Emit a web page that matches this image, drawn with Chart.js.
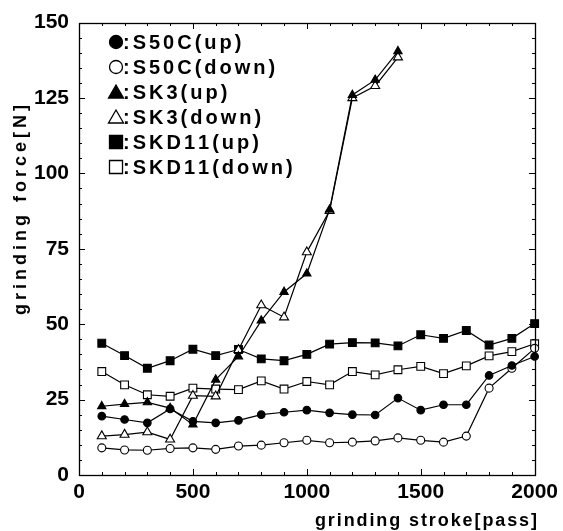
<!DOCTYPE html>
<html>
<head>
<meta charset="utf-8">
<script src="https://cdn.jsdelivr.net/npm/chart.js@4"></script>
<style>
  body { margin: 0; background: #fff; }
  canvas { display: block; }
</style>
</head>
<body>
<canvas id="myChart" width="563" height="531"></canvas>
<script>
// grinding force vs grinding stroke

var strokes = [100, 200, 300, 400, 500, 600, 700, 800, 900, 1000,
               1100, 1200, 1300, 1400, 1500, 1600, 1700, 1800, 1900, 2000];
var s50cUp    = [19.5, 18.4, 17.3, 21.9, 17.8, 17.3, 18.1, 20.0, 20.8, 21.5,
                 20.6, 20.0, 19.9, 25.5, 21.5, 23.3, 23.3, 33.0, 36.3, 39.3];
var s50cDown  = [9.0, 8.3, 8.2, 8.8, 9.0, 8.5, 9.6, 9.9, 10.7, 11.5,
                 10.7, 10.9, 11.3, 12.3, 11.5, 10.9, 12.9, 28.8, 35.4, 42.0];
var sk3Up     = [22.8, 23.5, 24.1, 22.2, 16.7, 31.6, 39.3, 51.2, 60.7, 66.8,
                 88.0, 126.0, 131.0, 140.5];
var sk3Down   = [12.9, 13.4, 14.2, 11.8, 26.3, 26.1, 41.5, 56.3, 52.3, 73.9,
                 87.6, 125.0, 129.0, 138.5];
var skd11Up   = [43.7, 39.6, 35.4, 37.9, 41.7, 39.6, 41.6, 38.5, 37.9, 40.0,
                 43.4, 43.9, 43.8, 42.8, 46.5, 45.3, 47.9, 43.1, 45.3, 50.2];
var skd11Down = [34.3, 29.9, 26.6, 26.1, 28.8, 28.5, 28.3, 31.2, 28.5, 31.0,
                 29.9, 34.3, 33.2, 34.9, 36.0, 33.6, 36.2, 39.5, 40.9, 43.5];
var yTicks = [0, 25, 50, 75, 100, 125, 150];
var xTicks = [0, 500, 1000, 1500, 2000];

function pts(vals) {
    return vals.map(function (v, i) { return { x: strokes[i], y: v }; });
}

function series(label, vals, style, filled, r) {
    return {
        label: label,
        data: pts(vals),
        borderColor: '#000',
        borderWidth: 1.2,
        pointStyle: style,
        pointRadius: r,
        pointBorderWidth: 1.1,
        pointBorderColor: '#000',
        pointBackgroundColor: filled ? '#000' : '#fff',
        tension: 0,
        clip: false,
        fill: false
    };
}

var FONT = "'Liberation Sans', Arial, sans-serif";

// text with extra space between letters, drawn char by char
// (ctx.letterSpacing made the frame disappear, so avoid it)
function spacedText(ctx, text, x, y, gap, align) {
    var total = 0, i;
    for (i = 0; i < text.length; i++) total += ctx.measureText(text[i]).width;
    total += gap * (text.length - 1);
    var cx = x;
    if (align === 'right') cx = x - total;
    else if (align === 'center') cx = x - total / 2;
    ctx.textAlign = 'left';
    for (i = 0; i < text.length; i++) {
        ctx.fillText(text[i], cx, y);
        cx += ctx.measureText(text[i]).width + gap;
    }
}

// box + inward ticks
var frame = {
    id: 'frame',
    afterDraw: function (chart) {
        var ctx = chart.ctx;
        var xs = chart.scales.x, ys = chart.scales.y;
        var L = Math.round(xs.getPixelForValue(0));
        var R = Math.round(xs.getPixelForValue(2000));
        var T = Math.round(ys.getPixelForValue(150));
        var B = Math.round(ys.getPixelForValue(0));
        ctx.save();
        ctx.strokeStyle = '#000';
        ctx.lineWidth = 1.3;
        ctx.strokeRect(L + 0.5, T + 0.5, R - L, B - T);
        ctx.lineWidth = 1;
        ctx.beginPath();
        for (var v = 0; v <= 2000; v += 100) {
            var px = Math.round(xs.getPixelForValue(v)) + 0.5;
            var len = v % 500 === 0 ? 6 : 3;
            ctx.moveTo(px, B); ctx.lineTo(px, B - len);
            ctx.moveTo(px, T); ctx.lineTo(px, T + len);
        }
        for (var w = 0; w <= 150; w += 5) {
            var py = Math.round(ys.getPixelForValue(w)) + 0.5;
            var l2 = w % 25 === 0 ? 6 : 3;
            ctx.moveTo(L, py); ctx.lineTo(L + l2, py);
            ctx.moveTo(R, py); ctx.lineTo(R - l2, py);
        }
        ctx.stroke();

        // legend
        ctx.font = 'bold 20px ' + FONT;
        ctx.textBaseline = 'middle';
        chart.data.datasets.forEach(function (ds, i) {
            var cx = 116, cy = 42 + i * 25;
            ctx.beginPath();
            if (ds.pointStyle === 'circle') {
                ctx.arc(cx, cy, 6.5, 0, Math.PI * 2);
            } else if (ds.pointStyle === 'triangle') {
                ctx.moveTo(cx, cy - 7);
                ctx.lineTo(cx + 7.5, cy + 6);
                ctx.lineTo(cx - 7.5, cy + 6);
                ctx.closePath();
            } else {
                ctx.rect(cx - 6.5, cy - 6.5, 13, 13);
            }
            ctx.fillStyle = ds.pointBackgroundColor;
            ctx.fill();
            ctx.lineWidth = 1.3;
            ctx.stroke();
            ctx.fillStyle = '#000';
            spacedText(ctx, ':' + ds.label, cx + 7, cy + 1, 3, 'left');
        });

        // x axis title
        ctx.font = 'bold 18px ' + FONT;
        spacedText(ctx, 'grinding stroke[pass]', 537, 521, 1.9, 'right');

        // y axis title
        ctx.translate(21, 210);
        ctx.rotate(-Math.PI / 2);
        spacedText(ctx, 'grinding force[N]', 0, 0, 4, 'center');
        ctx.restore();
    }
};

var ctx = document.getElementById('myChart').getContext('2d');
var myChart = new Chart(ctx, {
    type: 'line',
    data: {
        datasets: [
            series('S50C(up)', s50cUp, 'circle', true, 3.8),
            series('S50C(down)', s50cDown, 'circle', false, 4),
            series('SK3(up)', sk3Up, 'triangle', true, 4.8),
            series('SK3(down)', sk3Down, 'triangle', false, 5.2),
            series('SKD11(up)', skd11Up, 'rect', true, 5.5),
            series('SKD11(down)', skd11Down, 'rect', false, 5.5)
        ]
    },
    options: {
        responsive: false,
        animation: false,
        layout: { padding: { top: 19, right: 28, left: 0, bottom: 0 } },
        plugins: {
            legend: { display: false },
            tooltip: { enabled: false }
        },
        scales: {
            x: {
                type: 'linear',
                min: 0,
                max: 2000,
                afterFit: function (s) { s.height = 56; },
                afterBuildTicks: function (s) {
                    s.ticks = xTicks.map(function (v) { return { value: v }; });
                },
                grid: { display: false, drawTicks: false },
                border: { display: false },
                ticks: {
                    color: '#000',
                    padding: 5,
                    maxRotation: 0,
                    autoSkip: false,
                    font: { family: FONT, size: 21, weight: 'bold' },
                    callback: function (v) { return String(v); }
                }
            },
            y: {
                min: 0,
                max: 150,
                afterFit: function (s) { s.width = 79; },
                afterBuildTicks: function (s) {
                    s.ticks = yTicks.map(function (v) { return { value: v }; });
                },
                grid: { display: false, drawTicks: false },
                border: { display: false },
                ticks: {
                    color: '#000',
                    padding: 10,
                    autoSkip: false,
                    font: { family: FONT, size: 21, weight: 'bold' },
                    callback: function (v) { return String(v); }
                }
            }
        }
    },
    plugins: [frame]
});
</script>
</body>
</html>
